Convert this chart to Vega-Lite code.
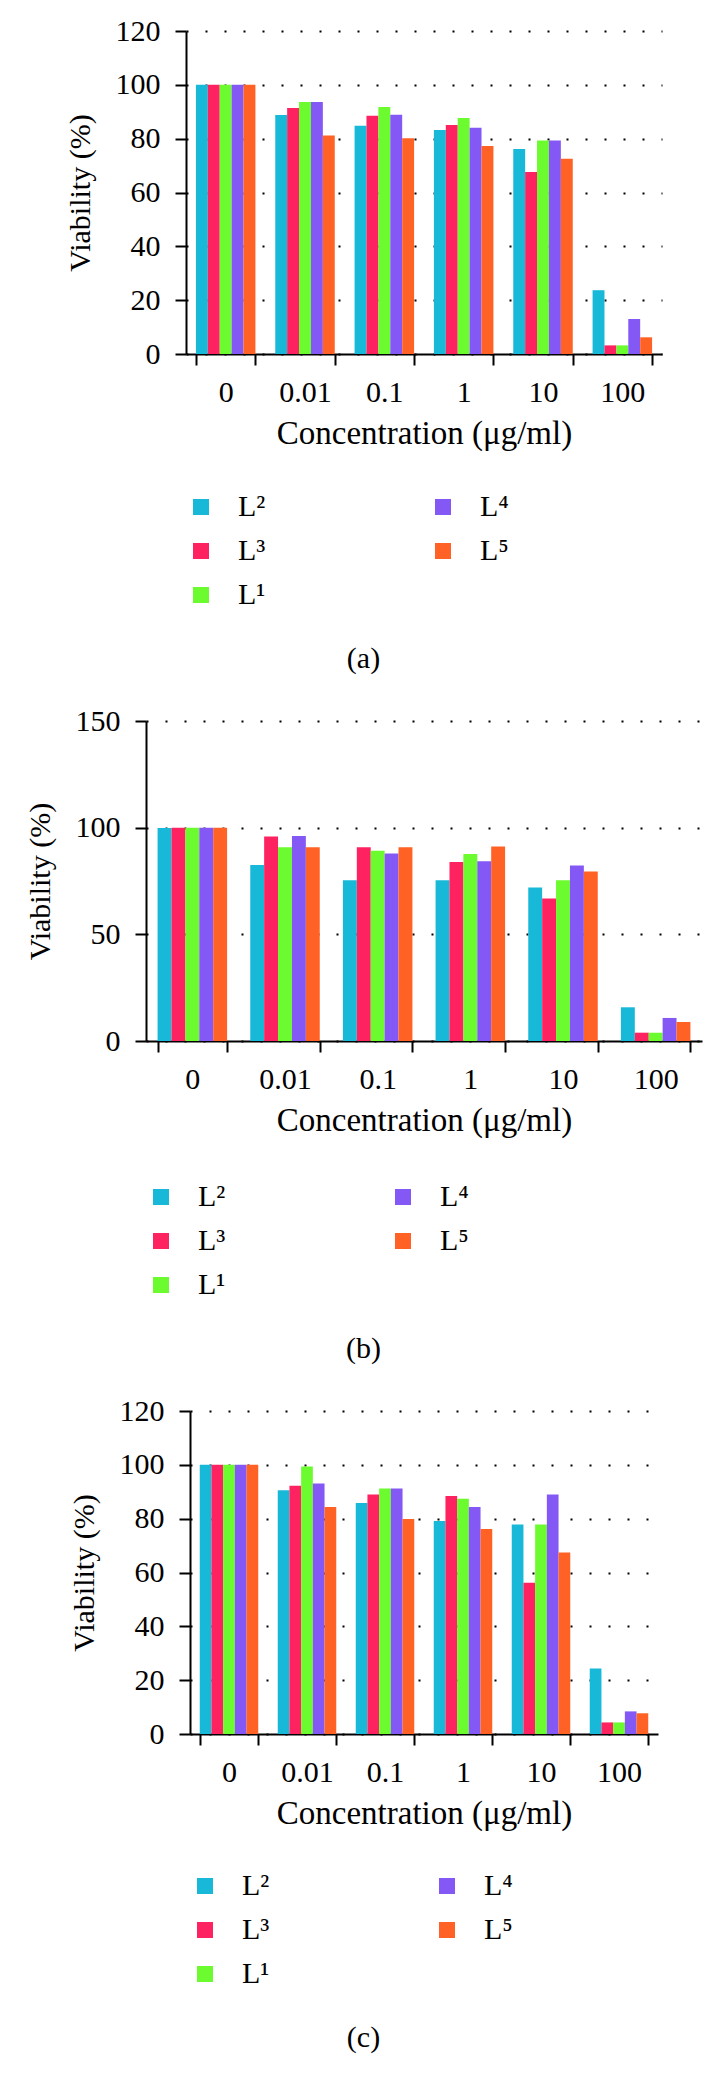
{
  "$schema": "https://vega.github.io/schema/vega-lite/v6.json",
  "padding": {"left": 25, "top": 16, "right": 5, "bottom": 5},
  "background": "white",
  "center": true,
  "spacing": 32,
  "data": {"values": [
    {"panel":"a","conc":"0","series":"L²","viability":100},{"panel":"a","conc":"0","series":"L³","viability":100},{"panel":"a","conc":"0","series":"L¹","viability":100},{"panel":"a","conc":"0","series":"L⁴","viability":100},{"panel":"a","conc":"0","series":"L⁵","viability":100},
    {"panel":"a","conc":"0.01","series":"L²","viability":88.8},{"panel":"a","conc":"0.01","series":"L³","viability":91.4},{"panel":"a","conc":"0.01","series":"L¹","viability":93.6},{"panel":"a","conc":"0.01","series":"L⁴","viability":93.6},{"panel":"a","conc":"0.01","series":"L⁵","viability":81.2},
    {"panel":"a","conc":"0.1","series":"L²","viability":84.8},{"panel":"a","conc":"0.1","series":"L³","viability":88.5},{"panel":"a","conc":"0.1","series":"L¹","viability":91.8},{"panel":"a","conc":"0.1","series":"L⁴","viability":88.9},{"panel":"a","conc":"0.1","series":"L⁵","viability":80.2},
    {"panel":"a","conc":"1","series":"L²","viability":83.2},{"panel":"a","conc":"1","series":"L³","viability":85.1},{"panel":"a","conc":"1","series":"L¹","viability":87.7},{"panel":"a","conc":"1","series":"L⁴","viability":84.1},{"panel":"a","conc":"1","series":"L⁵","viability":77.3},
    {"panel":"a","conc":"10","series":"L²","viability":76.2},{"panel":"a","conc":"10","series":"L³","viability":67.6},{"panel":"a","conc":"10","series":"L¹","viability":79.3},{"panel":"a","conc":"10","series":"L⁴","viability":79.3},{"panel":"a","conc":"10","series":"L⁵","viability":72.5},
    {"panel":"a","conc":"100","series":"L²","viability":23.7},{"panel":"a","conc":"100","series":"L³","viability":3.2},{"panel":"a","conc":"100","series":"L¹","viability":3.2},{"panel":"a","conc":"100","series":"L⁴","viability":13.0},{"panel":"a","conc":"100","series":"L⁵","viability":6.2},
    {"panel":"b","conc":"0","series":"L²","viability":99.8},{"panel":"b","conc":"0","series":"L³","viability":100},{"panel":"b","conc":"0","series":"L¹","viability":100},{"panel":"b","conc":"0","series":"L⁴","viability":100},{"panel":"b","conc":"0","series":"L⁵","viability":100},
    {"panel":"b","conc":"0.01","series":"L²","viability":82.5},{"panel":"b","conc":"0.01","series":"L³","viability":95.9},{"panel":"b","conc":"0.01","series":"L¹","viability":90.8},{"panel":"b","conc":"0.01","series":"L⁴","viability":96.1},{"panel":"b","conc":"0.01","series":"L⁵","viability":90.8},
    {"panel":"b","conc":"0.1","series":"L²","viability":75.4},{"panel":"b","conc":"0.1","series":"L³","viability":90.8},{"panel":"b","conc":"0.1","series":"L¹","viability":89.2},{"panel":"b","conc":"0.1","series":"L⁴","viability":87.9},{"panel":"b","conc":"0.1","series":"L⁵","viability":90.8},
    {"panel":"b","conc":"1","series":"L²","viability":75.4},{"panel":"b","conc":"1","series":"L³","viability":83.9},{"panel":"b","conc":"1","series":"L¹","viability":87.6},{"panel":"b","conc":"1","series":"L⁴","viability":84.2},{"panel":"b","conc":"1","series":"L⁵","viability":91.2},
    {"panel":"b","conc":"10","series":"L²","viability":72.0},{"panel":"b","conc":"10","series":"L³","viability":66.8},{"panel":"b","conc":"10","series":"L¹","viability":75.4},{"panel":"b","conc":"10","series":"L⁴","viability":82.3},{"panel":"b","conc":"10","series":"L⁵","viability":79.5},
    {"panel":"b","conc":"100","series":"L²","viability":15.8},{"panel":"b","conc":"100","series":"L³","viability":3.9},{"panel":"b","conc":"100","series":"L¹","viability":3.9},{"panel":"b","conc":"100","series":"L⁴","viability":10.8},{"panel":"b","conc":"100","series":"L⁵","viability":8.9},
    {"panel":"c","conc":"0","series":"L²","viability":100},{"panel":"c","conc":"0","series":"L³","viability":100},{"panel":"c","conc":"0","series":"L¹","viability":100},{"panel":"c","conc":"0","series":"L⁴","viability":100},{"panel":"c","conc":"0","series":"L⁵","viability":100},
    {"panel":"c","conc":"0.01","series":"L²","viability":90.6},{"panel":"c","conc":"0.01","series":"L³","viability":92.2},{"panel":"c","conc":"0.01","series":"L¹","viability":99.4},{"panel":"c","conc":"0.01","series":"L⁴","viability":93.1},{"panel":"c","conc":"0.01","series":"L⁵","viability":84.3},
    {"panel":"c","conc":"0.1","series":"L²","viability":85.8},{"panel":"c","conc":"0.1","series":"L³","viability":89.0},{"panel":"c","conc":"0.1","series":"L¹","viability":91.2},{"panel":"c","conc":"0.1","series":"L⁴","viability":91.2},{"panel":"c","conc":"0.1","series":"L⁵","viability":79.9},
    {"panel":"c","conc":"1","series":"L²","viability":79.1},{"panel":"c","conc":"1","series":"L³","viability":88.4},{"panel":"c","conc":"1","series":"L¹","viability":87.4},{"panel":"c","conc":"1","series":"L⁴","viability":84.3},{"panel":"c","conc":"1","series":"L⁵","viability":76.2},
    {"panel":"c","conc":"10","series":"L²","viability":77.8},{"panel":"c","conc":"10","series":"L³","viability":56.2},{"panel":"c","conc":"10","series":"L¹","viability":77.8},{"panel":"c","conc":"10","series":"L⁴","viability":89.0},{"panel":"c","conc":"10","series":"L⁵","viability":67.4},
    {"panel":"c","conc":"100","series":"L²","viability":24.3},{"panel":"c","conc":"100","series":"L³","viability":4.3},{"panel":"c","conc":"100","series":"L¹","viability":4.3},{"panel":"c","conc":"100","series":"L⁴","viability":8.4},{"panel":"c","conc":"100","series":"L⁵","viability":7.7}
  ]},
  "resolve": {
    "scale": {"x": "independent", "y": "independent", "xOffset": "independent", "color": "independent"},
    "axis": {"x": "independent", "y": "independent"},
    "legend": {"color": "independent"}
  },
  "vconcat": [
    {
      "width": 476, "height": 323,
      "title": {"text": "(a)"},
      "transform": [{"filter": "datum.panel === 'a'"}],
      "mark": {"type": "bar"},
      "encoding": {
        "x": {"field": "conc", "type": "nominal", "sort": ["0","0.01","0.1","1","10","100"], "scale": {"paddingInner": 0.25, "paddingOuter": 0.125}, "title": "Concentration (μg/ml)"},
        "xOffset": {"field": "series", "type": "nominal", "scale": {"domain": ["L²","L³","L¹","L⁴","L⁵"], "paddingInner": 0, "paddingOuter": 0}},
        "y": {"field": "viability", "type": "quantitative", "scale": {"domain": [0, 120], "nice": false}, "axis": {"values": [0,20,40,60,80,100,120]}, "title": "Viability (%)"},
        "color": {"field": "series", "type": "nominal", "scale": {"domain": ["L²","L³","L¹","L⁴","L⁵"], "range": ["#18B9D8","#FF2260","#6BFB2E","#8458F5","#FF6224"]}, "legend": {"legendY": 461}}
      }
    },
    {
      "width": 556, "height": 320,
      "title": {"text": "(b)"},
      "transform": [{"filter": "datum.panel === 'b'"}],
      "mark": {"type": "bar"},
      "encoding": {
        "x": {"field": "conc", "type": "nominal", "sort": ["0","0.01","0.1","1","10","100"], "scale": {"paddingInner": 0.25, "paddingOuter": 0.125}, "title": "Concentration (μg/ml)"},
        "xOffset": {"field": "series", "type": "nominal", "scale": {"domain": ["L²","L³","L¹","L⁴","L⁵"], "paddingInner": 0, "paddingOuter": 0}},
        "y": {"field": "viability", "type": "quantitative", "scale": {"domain": [0, 150], "nice": false}, "axis": {"values": [0,50,100,150]}, "title": "Viability (%)"},
        "color": {"field": "series", "type": "nominal", "scale": {"domain": ["L²","L³","L¹","L⁴","L⁵"], "range": ["#18B9D8","#FF2260","#6BFB2E","#8458F5","#FF6224"]}, "legend": {"legendY": 461}}
      }
    },
    {
      "width": 468, "height": 323,
      "title": {"text": "(c)"},
      "transform": [{"filter": "datum.panel === 'c'"}],
      "mark": {"type": "bar"},
      "encoding": {
        "x": {"field": "conc", "type": "nominal", "sort": ["0","0.01","0.1","1","10","100"], "scale": {"paddingInner": 0.25, "paddingOuter": 0.125}, "title": "Concentration (μg/ml)"},
        "xOffset": {"field": "series", "type": "nominal", "scale": {"domain": ["L²","L³","L¹","L⁴","L⁵"], "paddingInner": 0, "paddingOuter": 0}},
        "y": {"field": "viability", "type": "quantitative", "scale": {"domain": [0, 120], "nice": false}, "axis": {"values": [0,20,40,60,80,100,120]}, "title": "Viability (%)"},
        "color": {"field": "series", "type": "nominal", "scale": {"domain": ["L²","L³","L¹","L⁴","L⁵"], "range": ["#18B9D8","#FF2260","#6BFB2E","#8458F5","#FF6224"]}, "legend": {"legendY": 460}}
      }
    }
  ],
  "config": {
    "font": "Liberation Serif",
    "view": {"stroke": null},
    "axis": {
      "labelFont": "Liberation Serif", "titleFont": "Liberation Serif",
      "labelFontSize": 30, "titleFontSize": 30, "titleFontWeight": "normal",
      "labelColor": "black", "titleColor": "black",
      "domainColor": "black", "domainWidth": 2, "tickColor": "black", "tickWidth": 2, "tickSize": 11
    },
    "axisX": {"labelAngle": 0, "tickBand": "extent", "grid": false, "labelPadding": 12, "titlePadding": 10, "titleFontSize": 33},
    "axisY": {"grid": true, "gridColor": "black", "gridWidth": 2, "gridDash": [2, 17], "labelPadding": 15, "titlePadding": 20},
    "legend": {
      "orient": "none", "legendX": 0, "title": null,
      "columns": 2, "columnPadding": 162, "rowPadding": 14, "padding": 0,
      "symbolType": "square", "symbolSize": 256, "symbolStrokeWidth": 0,
      "labelFont": "Liberation Serif", "labelFontSize": 30, "labelColor": "black", "labelOffset": 22
    },
    "title": {"orient": "bottom", "anchor": "middle", "frame": "bounds", "font": "Liberation Serif", "fontSize": 30, "fontWeight": "normal", "color": "black", "offset": 34}
  }
}
